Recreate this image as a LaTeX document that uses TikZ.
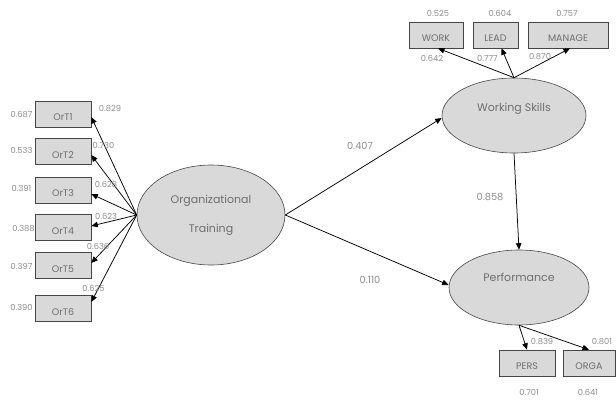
\documentclass[tikz,border=0pt]{standalone}
\usepackage{fontspec}
\setmainfont{Poppins}
\usetikzlibrary{arrows.meta,shapes.geometric}
\definecolor{boxfill}{RGB}{217,217,217}
\definecolor{boxline}{RGB}{70,70,70}
\definecolor{txtgray}{RGB}{110,110,110}
\definecolor{lblgray}{RGB}{140,140,140}
\tikzset{
  ind/.style={draw=boxline, fill=boxfill, line width=0.6pt, minimum height=26pt, inner sep=0pt,
     text=txtgray, font=\fontsize{9.5}{11}\selectfont, text height=13.5pt, text depth=0pt},
  lat/.style={draw=boxline, fill=boxfill, line width=0.6pt, ellipse, inner sep=0pt,
     text=txtgray, font=\fontsize{11}{13}\selectfont},
  lbl/.style={text=lblgray, font=\fontsize{8.3}{9}\selectfont, inner sep=0pt},
  mlbl/.style={text=lblgray, font=\fontsize{9.8}{11}\selectfont, inner sep=0pt},
  arr/.style={-{Triangle[length=6.5pt,width=5.5pt]}, line width=0.75pt, black},
}
\begin{document}
\begin{tikzpicture}[x=1pt,y=-1pt]
\useasboundingbox (0,0) rectangle (616,402);
% latent variables
\node[lat, minimum width=148pt, minimum height=100pt, align=center] (org) at (211,215)
  {Organizational\\[16pt]Training};
\node[lat, minimum width=144pt, minimum height=75pt, text height=0pt, text depth=8.5pt] (ws) at (514,115.5) {Working Skills};
\node[lat, minimum width=140pt, minimum height=75pt, text height=0pt, text depth=12pt] (perf) at (519,287.5) {Performance};
% OrT indicators
\node[ind, minimum width=56pt] (o1) at (63,114) {OrT1};
\node[ind, minimum width=56pt] (o2) at (63,151.5) {OrT2};
\node[ind, minimum width=56pt] (o3) at (63,190) {OrT3};
\node[ind, minimum width=56pt] (o4) at (63,227.5) {OrT4};
\node[ind, minimum width=56pt] (o5) at (63,265.5) {OrT5};
\node[ind, minimum width=56pt] (o6) at (63,308.5) {OrT6};
% WS indicators
\node[ind, minimum width=54pt] (work) at (436,35) {WORK};
\node[ind, minimum width=45pt] (lead) at (495.5,35) {LEAD};
\node[ind, minimum width=80pt] (manage) at (568,35) {MANAGE};
% Perf indicators
\node[ind, minimum width=56pt] (pers) at (527,363) {PERS};
\node[ind, minimum width=52pt] (orga) at (589,363) {ORGA};
% arrows OrT
\draw[arr] (org.west) -- ([yshift=-3pt]o1.east);
\draw[arr] (org.west) -- ([yshift=-3.5pt]o2.east);
\draw[arr] (org.west) -- ([yshift=-4pt]o3.east);
\draw[arr] (org.west) -- ([yshift=1.5pt]o4.east);
\draw[arr] (org.west) -- ([yshift=2.5pt]o5.east);
\draw[arr] (org.west) -- ([yshift=6.5pt]o6.east);
% arrows WS
\draw[arr] (ws.north) -- ([xshift=2pt]work.south);
\draw[arr] (ws.north) -- ([xshift=6pt]lead.south);
\draw[arr] (ws.north) -- ([xshift=2pt]manage.south);
% arrows Perf
\draw[arr] (perf.south) -- (pers.north);
\draw[arr] (perf.south) -- (orga.north);
% structural
\draw[arr] (org.east) -- ([yshift=-2.5pt]ws.west);
\draw[arr] (org.east) -- ([yshift=2.5pt]perf.west);
\draw[arr] (ws.south) -- (perf.north);
% labels
\node[lbl] (l1) at (21.5,115) {0.687};
\node[lbl] (l2) at (21.5,150) {0.533};
\node[lbl] (l3) at (21.5,188) {0.391};
\node[lbl] (l4) at (23.5,229) {0.388};
\node[lbl] (l5) at (21.5,266) {0.397};
\node[lbl] (l6) at (21.5,307) {0.390};
\node[lbl] (r1) at (110,109) {0.829};
\node[lbl] (r2) at (103.5,145) {0.730};
\node[lbl] (r3) at (106,185) {0.628};
\node[lbl] (r4) at (106,216) {0.623};
\node[lbl] (r5) at (98,246) {0.636};
\node[lbl] (r6) at (93.5,288) {0.625};
\node[lbl] (t1) at (438,13) {0.525};
\node[lbl] (t2) at (500,13) {0.604};
\node[lbl] (t3) at (567,13) {0.757};
\node[lbl] (u1) at (432,58) {0.642};
\node[lbl] (u2) at (487.5,58) {0.777};
\node[lbl] (u3) at (540,57) {0.870};
\node[lbl] (b1) at (542,342) {0.839};
\node[lbl] (b2) at (602,342) {0.801};
\node[lbl] (b3) at (529,392) {0.701};
\node[lbl] (b4) at (588,392) {0.641};
\node[mlbl] (m1) at (360,146) {0.407};
\node[mlbl] (m2) at (490,197) {0.858};
\node[mlbl] (m3) at (370,280) {0.110};
\end{tikzpicture}
\end{document}
